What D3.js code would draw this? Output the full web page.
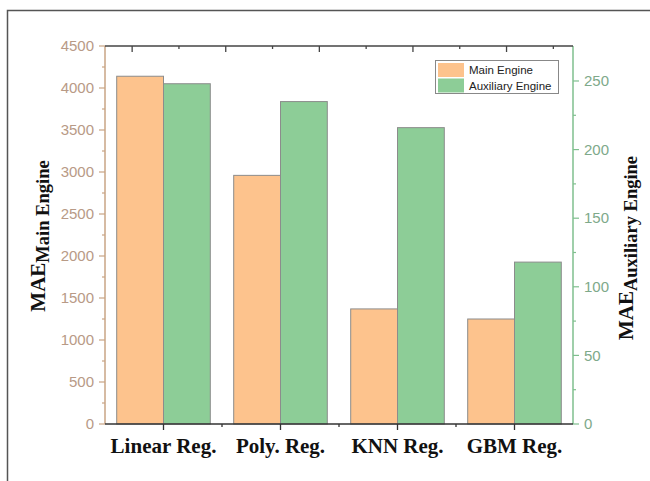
<!DOCTYPE html>
<html><head><meta charset="utf-8">
<script src="https://cdn.jsdelivr.net/npm/d3@7"></script>
<style>body{margin:0;background:#fff}svg{display:block}</style>
</head><body>
<script>
const categories = ["Linear Reg.", "Poly. Reg.", "KNN Reg.", "GBM Reg."];
const mainEngine = [4140, 2960, 1370, 1250];
const auxEngine = [248, 235, 216, 118];
const leftTicks = [0, 500, 1000, 1500, 2000, 2500, 3000, 3500, 4000, 4500];
const rightTicks = [0, 50, 100, 150, 200, 250];
const seriesNames = ["Main Engine", "Auxiliary Engine"];
const colors = ["#fdc38d", "#8dcd97"];

const W = 650, H = 481;
const m = {l: 105, r: 77, t: 46, b: 57};
const pw = W - m.l - m.r, ph = H - m.t - m.b;

const svg = d3.select("body").append("svg").attr("width", W).attr("height", H);
svg.append("path").attr("d", `M7.5,${H} V10.5 H${W}`).attr("fill","none").attr("stroke","#555").attr("stroke-width",1.5);

const g = svg.append("g").attr("transform", `translate(${m.l},${m.t})`);

const x0 = d3.scaleBand().domain(categories).range([0, pw]).paddingInner(0.2).paddingOuter(0.1);
const x1 = d3.scaleBand().domain([0,1]).range([0, x0.bandwidth()]);
const yL = d3.scaleLinear().domain([0, 4500]).range([ph, 0]);
const yR = d3.scaleLinear().domain([0, 275.5]).range([ph, 0]);

categories.forEach((c, i) => {
  g.append("rect").attr("x", x0(c) + x1(0)).attr("width", x1.bandwidth())
    .attr("y", yL(mainEngine[i])).attr("height", ph - yL(mainEngine[i]))
    .attr("fill", colors[0]).attr("stroke", "#8c8c8c").attr("stroke-width", 1);
  g.append("rect").attr("x", x0(c) + x1(1)).attr("width", x1.bandwidth())
    .attr("y", yR(auxEngine[i])).attr("height", ph - yR(auxEngine[i]))
    .attr("fill", colors[1]).attr("stroke", "#8c8c8c").attr("stroke-width", 1);
});

const leftCol = "#c9a484", leftText = "#b89a86";
const minorL = d3.range(250, 4500, 500);
const axL = g.append("g");
axL.append("line").attr("x1",0).attr("x2",0).attr("y1",0).attr("y2",ph).attr("stroke",leftCol).attr("stroke-width",1.5);
axL.selectAll(".mj").data(leftTicks).join("line").attr("x1",-6).attr("x2",0)
  .attr("y1",d=>yL(d)).attr("y2",d=>yL(d)).attr("stroke",leftCol).attr("stroke-width",1.2);
axL.selectAll(".mn").data(minorL).join("line").attr("x1",-3).attr("x2",0)
  .attr("y1",d=>yL(d)).attr("y2",d=>yL(d)).attr("stroke",leftCol).attr("stroke-width",1.2);
axL.selectAll("text").data(leftTicks).join("text").attr("x",-11).attr("y",d=>yL(d)).attr("dy","0.35em")
  .attr("text-anchor","end").attr("font-family","Liberation Sans, Arial, sans-serif").attr("font-size",15)
  .attr("fill",leftText).text(d=>d);

const rightCol = "#7fbf8e", rightText = "#7ea98a";
const minorR = d3.range(25, 275, 50);
const axR = g.append("g").attr("transform",`translate(${pw},0)`);
axR.append("line").attr("x1",0).attr("x2",0).attr("y1",0).attr("y2",ph).attr("stroke",rightCol).attr("stroke-width",1.5);
axR.selectAll(".mj").data(rightTicks).join("line").attr("x1",0).attr("x2",6)
  .attr("y1",d=>yR(d)).attr("y2",d=>yR(d)).attr("stroke",rightCol).attr("stroke-width",1.2);
axR.selectAll(".mn").data(minorR).join("line").attr("x1",0).attr("x2",3)
  .attr("y1",d=>yR(d)).attr("y2",d=>yR(d)).attr("stroke",rightCol).attr("stroke-width",1.2);
axR.selectAll("text").data(rightTicks).join("text").attr("x",11).attr("y",d=>yR(d)).attr("dy","0.35em")
  .attr("text-anchor","start").attr("font-family","Liberation Sans, Arial, sans-serif").attr("font-size",15)
  .attr("fill",rightText).text(d=>d);

const topScale = d3.scaleLinear().domain([0, 10]).range([0, pw]);
const topTicks = d3.range(0.58, 10, 1);
g.append("line").attr("x1",0).attr("x2",pw).attr("y1",0).attr("y2",0).attr("stroke","#444").attr("stroke-width",1.5);
g.selectAll(".tt").data(topTicks).join("line").attr("x1",d=>topScale(d)).attr("x2",d=>topScale(d))
  .attr("y1",0).attr("y2",(d,i)=> i%2===0 ? 6 : 3).attr("stroke","#444").attr("stroke-width",1.3);

g.append("line").attr("x1",0).attr("x2",pw).attr("y1",ph).attr("y2",ph).attr("stroke","#333").attr("stroke-width",1.5);
g.selectAll(".bt").data(categories).join("line").attr("x1",d=>x0(d)+x0.bandwidth()/2).attr("x2",d=>x0(d)+x0.bandwidth()/2)
  .attr("y1",ph).attr("y2",ph+6).attr("stroke","#333").attr("stroke-width",1.3);
const step = x0.step();
g.selectAll(".bm").data(d3.range(1, categories.length)).join("line").attr("x1",d=>d*step).attr("x2",d=>d*step)
  .attr("y1",ph).attr("y2",ph+3).attr("stroke","#333").attr("stroke-width",1.3);
g.selectAll(".bl").data(categories).join("text").attr("x",d=>x0(d)+x0.bandwidth()/2).attr("y",ph+29)
  .attr("text-anchor","middle").attr("font-family","Liberation Serif, Times New Roman, serif")
  .attr("font-weight","bold").attr("font-size",21).attr("fill","#111").text(d=>d);

function title(xp, yp, sub) {
  const t = svg.append("text").attr("transform",`translate(${xp},${yp}) rotate(-90)`)
    .attr("text-anchor","middle").attr("font-family","Liberation Serif, Times New Roman, serif")
    .attr("font-weight","bold").attr("fill","#111");
  t.append("tspan").attr("font-size",21).text("MAE");
  t.append("tspan").attr("font-size",18.5).attr("dy",4).text(sub);
}
title(45, 236, "Main Engine");
title(633, 248, "Auxiliary Engine");

const lg = svg.append("g").attr("transform","translate(435,60)");
lg.append("rect").attr("x",0.5).attr("y",0.5).attr("width",123).attr("height",33).attr("fill","#fff").attr("stroke","#888");
seriesNames.forEach((n,i)=>{
  lg.append("rect").attr("x",3).attr("y",3+i*15.5).attr("width",26).attr("height",14).attr("fill",colors[i]);
  lg.append("text").attr("x",34).attr("y",10+i*15.5).attr("dy","0.35em").attr("font-family","Liberation Sans, Arial, sans-serif")
    .attr("font-size",11.5).attr("fill","#222").text(n);
});
</script>
</body></html>
